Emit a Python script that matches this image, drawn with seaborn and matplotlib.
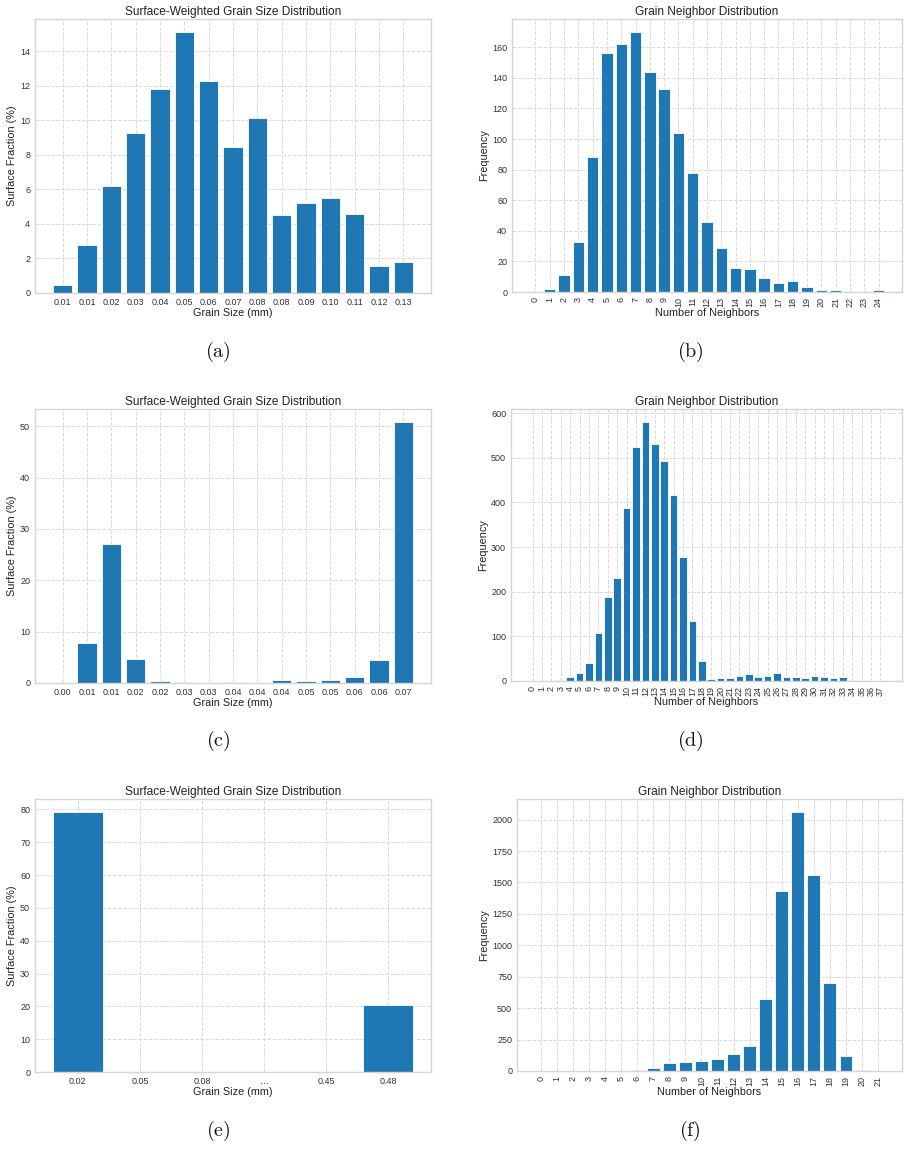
import numpy as np
import pandas as pd
import seaborn as sns
import matplotlib
matplotlib.use("Agg")
import matplotlib.pyplot as plt

## Data

# (a) surface-weighted grain size, first sample
size_labels_a = ["0.01", "0.01", "0.02", "0.03", "0.04", "0.05", "0.06", "0.07",
                 "0.08", "0.08", "0.09", "0.10", "0.11", "0.12", "0.13"]
surface_a = [0.45, 2.75, 6.2, 9.25, 11.8, 15.1, 12.27, 8.45,
             10.15, 4.52, 5.18, 5.5, 4.6, 1.55, 1.78]

# (b) neighbor counts, first sample
neighbors_b = list(range(0, 25))
freq_b = [0, 2, 11, 33, 88, 156, 162, 170, 144, 133, 104, 78, 46, 29,
          16, 15, 9, 6, 7, 3, 1, 1, 0, 0, 1]

# (c) surface-weighted grain size, second sample
size_labels_c = ["0.00", "0.01", "0.01", "0.02", "0.02", "0.03", "0.03", "0.04",
                 "0.04", "0.04", "0.05", "0.05", "0.06", "0.06", "0.07"]
surface_c = [0.0, 7.7, 27.1, 4.75, 0.45, 0.1, 0.0, 0.1,
             0.0, 0.5, 0.3, 0.6, 1.2, 4.5, 50.8]

# (d) neighbor counts, second sample
neighbors_d = list(range(0, 38))
freq_d = [0, 0, 1, 3, 9, 19, 41, 108, 187, 230, 387, 523, 580, 531, 492,
          416, 278, 135, 45, 4, 6, 6, 11, 15, 9, 12, 17, 9, 10, 7, 12, 9,
          7, 9, 3, 1, 1, 0]

# (e) surface-weighted grain size, third sample
size_labels_e = ["0.02", "0.05", "0.08", "\u2026", "0.45", "0.48"]
surface_e = [79.2, 0.0, 0.0, 0.0, 0.0, 20.4]

# (f) neighbor counts, third sample
neighbors_f = list(range(0, 22))
freq_f = [0, 0, 0, 0, 0, 0, 8, 24, 66, 72, 82, 93, 133, 202, 574,
          1433, 2061, 1559, 697, 120, 11, 0]

captions = ["(a)", "(b)", "(c)", "(d)", "(e)", "(f)"]

BLUE = "#1f77b4"

sns.set_theme(style="whitegrid", rc={
    "grid.linestyle": "--",
    "grid.color": "#d9d9d9",
    "grid.linewidth": 0.7,
    "axes.edgecolor": "#d5d5d5",
    "axes.linewidth": 1.0,
})
plt.rcParams["font.family"] = ["Liberation Sans", "DejaVu Sans"]
plt.rcParams["mathtext.fontset"] = "cm"

W, H = 910, 1149
fig = plt.figure(figsize=(W / 100, H / 100), dpi=100)


def px_axes(l, r, t, b):
    return fig.add_axes([l / W, 1 - b / H, (r - l) / W, (b - t) / H])


def bar_panel(ax, labels, values, title, xlabel, ylabel, rotate=False):
    n = len(values)
    df = pd.DataFrame({"pos": np.arange(n), "val": values})
    sns.barplot(data=df, x="pos", y="val", ax=ax, color=BLUE, saturation=1,
                width=0.8, edgecolor="white", linewidth=0.6)
    # matplotlib default 5% margins like the original plt.bar figure
    span = (n - 1) + 0.8
    ax.set_xlim(-0.4 - 0.05 * span, n - 1 + 0.4 + 0.05 * span)
    ax.set_ylim(0, max(values) * 1.05)
    ax.set_xticks(np.arange(n))
    ax.set_xticklabels(labels, rotation=90 if rotate else 0)
    ax.tick_params(axis="x", length=0, labelsize=6.5, pad=3.4, colors="#333333")
    ax.tick_params(axis="y", length=0, labelsize=6.5, pad=3.5, colors="#333333")
    ax.set_title(title, fontsize=8.6, pad=3, color="#222222")
    ax.set_xlabel(xlabel, fontsize=7.8, labelpad=1, color="#222222")
    ax.set_ylabel(ylabel, fontsize=7.8, labelpad=2, color="#222222")
    ax.grid(True, axis="both")
    ax.set_axisbelow(True)


gs_title = "Surface-Weighted Grain Size Distribution"
nb_title = "Grain Neighbor Distribution"

ax_a = px_axes(35, 431, 19, 293)
bar_panel(ax_a, size_labels_a, surface_a, gs_title, "Grain Size (mm)",
          "Surface Fraction (%)")

ax_b = px_axes(512, 902, 19, 292)
bar_panel(ax_b, [str(v) for v in neighbors_b], freq_b, nb_title,
          "Number of Neighbors", "Frequency", rotate=True)

ax_c = px_axes(35, 431, 409, 683)
bar_panel(ax_c, size_labels_c, surface_c, gs_title, "Grain Size (mm)",
          "Surface Fraction (%)")

ax_d = px_axes(511, 902, 409, 681)
bar_panel(ax_d, [str(v) for v in neighbors_d], freq_d, nb_title,
          "Number of Neighbors", "Frequency", rotate=True)

ax_e = px_axes(35, 431, 799, 1072)
bar_panel(ax_e, size_labels_e, surface_e, gs_title, "Grain Size (mm)",
          "Surface Fraction (%)")

ax_f = px_axes(517, 902, 799, 1071)
bar_panel(ax_f, [str(v) for v in neighbors_f], freq_f, nb_title,
          "Number of Neighbors", "Frequency", rotate=True)

# subfigure captions, LaTeX style
cap_pos = [(218, 352), (690, 352), (218, 741), (690, 741), (218, 1131), (690, 1131)]
for cap, (cx, cy) in zip(captions, cap_pos):
    fig.text(cx / W, 1 - cy / H, r"$\mathrm{" + cap + "}$", fontsize=14.5,
             ha="center", va="center", color="#111111")

fig.savefig("out.png", dpi=100, facecolor="white")
